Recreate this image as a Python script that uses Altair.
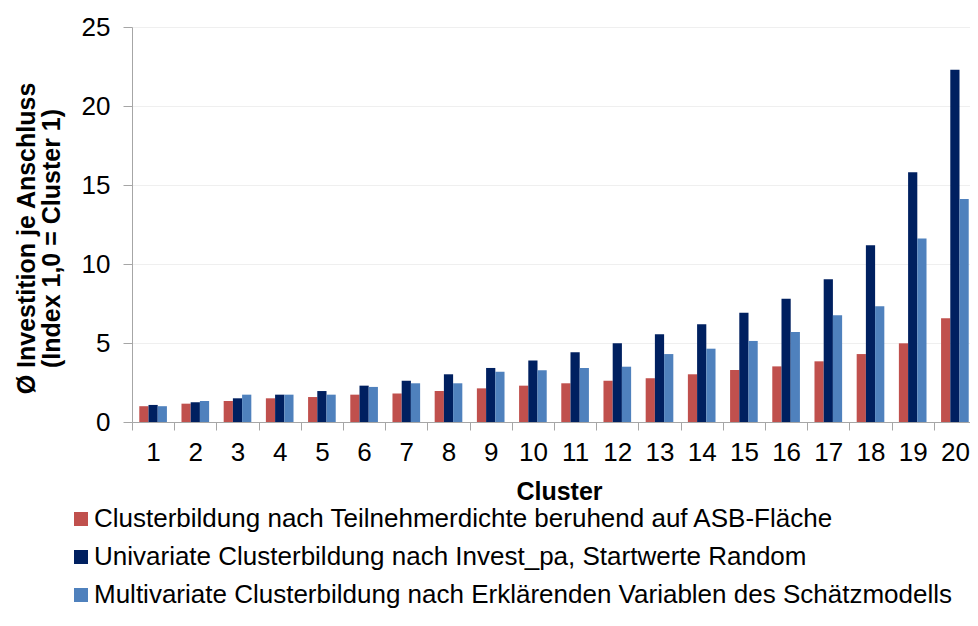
import altair as alt
import pandas as pd

clusters = list(range(1, 21))
series = [
    "Clusterbildung nach Teilnehmerdichte beruhend auf ASB-Fläche",
    "Univariate Clusterbildung nach Invest_pa, Startwerte Random",
    "Multivariate Clusterbildung nach Erklärenden Variablen des Schätzmodells",
]
colors = ["#C0504D", "#002060", "#4F81BD"]

red = [1.00, 1.16, 1.33, 1.50, 1.58, 1.73, 1.81, 1.96, 2.13, 2.30,
       2.45, 2.61, 2.77, 3.02, 3.29, 3.52, 3.84, 4.30, 4.98, 6.56]
navy = [1.08, 1.25, 1.50, 1.73, 1.96, 2.30, 2.61, 3.02, 3.42, 3.90,
        4.41, 4.98, 5.55, 6.18, 6.92, 7.80, 9.03, 11.18, 15.80, 22.30]
blue = [1.00, 1.33, 1.73, 1.73, 1.73, 2.22, 2.45, 2.45, 3.18, 3.27,
        3.42, 3.50, 4.30, 4.64, 5.13, 5.70, 6.75, 7.32, 11.62, 14.11]

y_ticks = [0, 5, 10, 15, 20, 25]

rows = []
for s, vals in zip(series, [red, navy, blue]):
    for c, v in zip(clusters, vals):
        rows.append({"cluster": c, "series": s, "value": v})
df = pd.DataFrame(rows)

FONT = "Liberation Sans"

chart = alt.Chart(df).mark_bar().encode(
    x=alt.X(
        "cluster:O",
        scale=alt.Scale(range=[0, 844], paddingInner=0, paddingOuter=0),
        axis=alt.Axis(
            title="Cluster",
            labelAngle=0,
            labelFontSize=26,
            labelFont=FONT,
            labelColor="#000000",
            labelPadding=9,
            tickBand="extent",
            tickSize=8,
            tickColor="#A6A6A6",
            domainColor="#A6A6A6",
            titleFont=FONT,
            titleFontSize=25,
            titleFontWeight="bold",
            titleColor="#000000",
            titleX=427,
            titleY=57,
            titleBaseline="top",
            grid=False,
        ),
    ),
    xOffset=alt.XOffset(
        "series:N", sort=series,
        scale=alt.Scale(paddingOuter=0.79, paddingInner=0),
    ),
    y=alt.Y(
        "value:Q",
        scale=alt.Scale(domain=[0, 25], nice=False),
        axis=alt.Axis(
            title=["Ø Investition je Anschluss", "(Index 1,0 = Cluster 1)"],
            values=y_ticks,
            labelFontSize=26,
            labelFont=FONT,
            labelColor="#000000",
            labelPadding=13,
            tickSize=9,
            tickColor="#A6A6A6",
            domainColor="#A6A6A6",
            gridColor="#EFEFEF",
            titleFont=FONT,
            titleFontSize=25,
            titleFontWeight="bold",
            titleColor="#000000",
            titleAngle=270,
            titleAlign="center",
            titleBaseline="bottom",
            titleX=-93,
            titleY=211,
            titleLineHeight=25,
        ),
    ),
    color=alt.Color(
        "series:N",
        sort=series,
        scale=alt.Scale(domain=series, range=colors),
        legend=alt.Legend(
            title=None,
            orient="none",
            legendX=-64,
            legendY=479,
            direction="vertical",
            symbolType="square",
            symbolSize=196,
            symbolStrokeWidth=0,
            labelFont=FONT,
            labelFontSize=26,
            labelColor="#000000",
            labelLimit=1200,
            labelOffset=0,
            rowPadding=12,
        ),
    ),
).properties(
    width=838,
    height=395,
    autosize=alt.AutoSizeParams(type="none"),
    padding={"left": 124, "top": 19, "right": 0, "bottom": 190},
).configure_view(stroke=None)

chart.save("out.html", embed_options={"renderer": "svg", "actions": False})
